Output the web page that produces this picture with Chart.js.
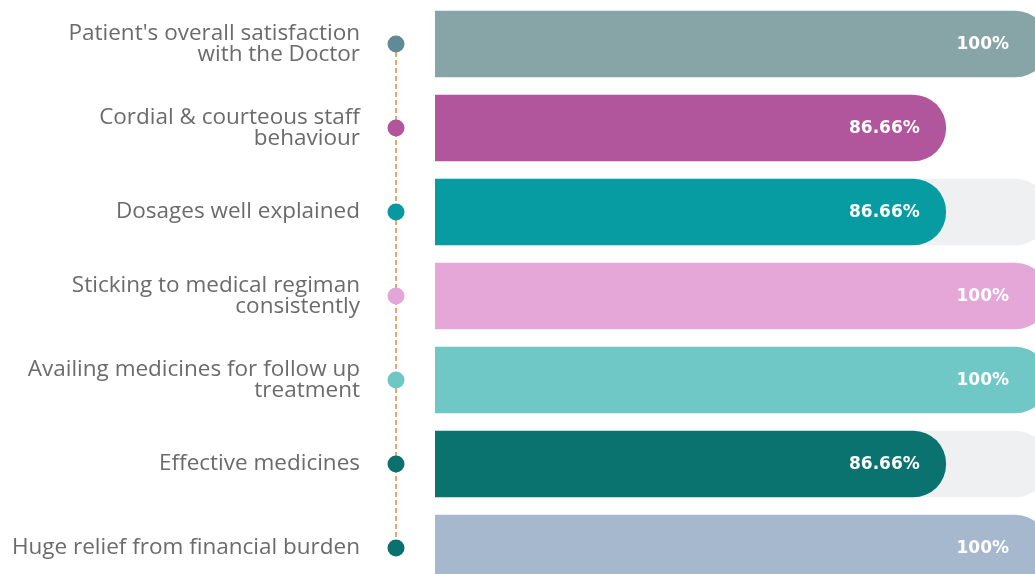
<!DOCTYPE html>
<html>
<head>
<meta charset="utf-8">
<script src="https://cdn.jsdelivr.net/npm/chart.js@4.4.1/dist/chart.umd.min.js"></script>
<style>
  html, body { margin: 0; padding: 0; background: #fff; overflow: hidden; }
  #wrap { position: relative; width: 1035px; height: 574px; overflow: hidden; }
  #chart { position: absolute; left: 0; top: 0; }
</style>
</head>
<body>
<div id="wrap"><canvas id="chart" width="1048" height="592"></canvas></div>
<script>
// Survey rows (top to bottom)
const categories = [
  ["Patient's overall satisfaction", "with the Doctor"],
  ["Cordial & courteous staff", "behaviour"],
  "Dosages well explained",
  ["Sticking to medical regiman", "consistently"],
  ["Availing medicines for follow up", "treatment"],
  "Effective medicines",
  "Huge relief from financial burden"
];
const scores = [100, 86.66, 86.66, 100, 100, 86.66, 100];
const trackValues = [null, null, 100, null, null, 100, null];
const barColors = ['#87a5a7', '#b1559c', '#069ca2', '#e4a7d7', '#6fc8c5', '#0a736f', '#a6b8ce'];
const dotColors = ['#5f8a96', '#b1559c', '#07999f', '#e2a6d8', '#6ec7c4', '#0a716e', '#0a716e'];

const VISIBLE_RIGHT = 1035;

// Timeline: dashed orange line with a coloured dot for each row
const timelinePlugin = {
  id: 'timeline',
  afterDraw(chart) {
    const { ctx } = chart;
    const y = chart.scales.y;
    const x = 396;
    const first = y.getPixelForValue(0);
    const last = y.getPixelForValue(categories.length - 1);
    ctx.save();
    ctx.strokeStyle = '#e8873a';
    ctx.lineWidth = 1.5;
    ctx.setLineDash([5, 3]);
    ctx.beginPath();
    ctx.moveTo(x, first);
    ctx.lineTo(x, last);
    ctx.stroke();
    ctx.setLineDash([]);
    dotColors.forEach((c, i) => {
      ctx.fillStyle = c;
      ctx.beginPath();
      ctx.arc(x, y.getPixelForValue(i), 8.5, 0, Math.PI * 2);
      ctx.fill();
    });
    ctx.restore();
  }
};

// White value labels near the (visible) end of each bar
const valueLabelPlugin = {
  id: 'valueLabels',
  afterDatasetsDraw(chart) {
    const { ctx } = chart;
    const meta = chart.getDatasetMeta(0);
    ctx.save();
    ctx.fillStyle = '#ffffff';
    ctx.font = "bold 17px 'DejaVu Sans', sans-serif";
    ctx.textAlign = 'right';
    ctx.textBaseline = 'middle';
    meta.data.forEach((bar, i) => {
      ctx.fillText(scores[i] + '%', Math.min(bar.x, VISIBLE_RIGHT) - 26, bar.y + 1);
    });
    ctx.restore();
  }
};

new Chart(document.getElementById('chart'), {
  type: 'bar',
  data: {
    labels: categories,
    datasets: [
      {
        data: scores,
        backgroundColor: barColors,
        barThickness: 66,
        borderRadius: 33,
        borderSkipped: 'start',
        grouped: false,
        order: 0
      },
      {
        data: trackValues,
        backgroundColor: '#eef0f2',
        barThickness: 66,
        borderRadius: 33,
        borderSkipped: 'start',
        grouped: false,
        order: 1
      }
    ]
  },
  options: {
    indexAxis: 'y',
    responsive: false,
    animation: false,
    layout: { padding: { top: 2, bottom: 2, left: 0, right: 0 } },
    plugins: {
      legend: { display: false },
      tooltip: { enabled: false }
    },
    scales: {
      x: {
        min: 20,
        max: 100,
        display: false
      },
      y: {
        grid: { display: false, drawTicks: true, tickLength: 75 },
        border: { display: false },
        afterFit(scale) {
          scale.width = 435;
          scale.paddingTop = 0;
          scale.paddingBottom = 0;
        },
        ticks: {
          padding: 0,
          color: '#6b6b6b',
          font: { family: "'Open Sans', sans-serif", size: 22.5, weight: '500', lineHeight: 0.92 }
        }
      }
    }
  },
  plugins: [timelinePlugin, valueLabelPlugin]
});
</script>
</body>
</html>
